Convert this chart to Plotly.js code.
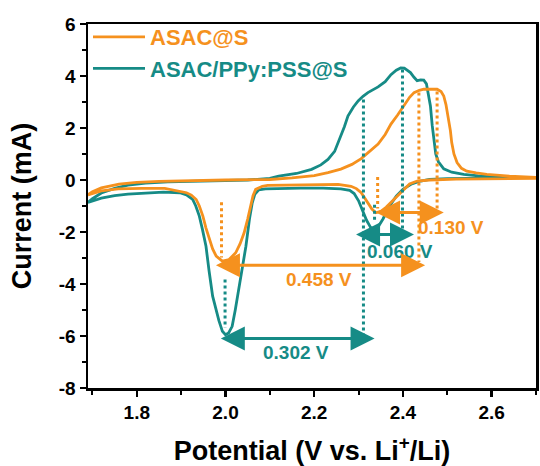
<!DOCTYPE html>
<html>
<head>
<meta charset="utf-8">
<script src="https://cdn.plot.ly/plotly-3.0.1.min.js"></script>
<style>html,body{margin:0;padding:0;background:#fff;}#chart{width:540px;height:466px;}</style>
</head>
<body>
<div id="chart"></div>
<script>
// ---- data: ASAC/PPy:PSS@S (teal), full CV loop: cathodic scan then anodic scan
const tealV = [2.70,2.62,2.55,2.50,2.46,2.44,2.42,2.40,2.385,2.37,2.355,2.345,2.336,2.327,2.318,2.31,2.30,2.29,2.28,2.26,2.22,2.17,2.12,2.09,2.075,2.066,2.06,2.054,2.046,2.038,2.031,2.022,2.015,2.007,2.0,1.993,1.985,1.978,1.971,1.963,1.956,1.948,1.941,1.933,1.926,1.912,1.897,1.86,1.82,1.78,1.75,1.72,1.69,
  1.70,1.72,1.75,1.78,1.82,1.87,1.95,2.05,2.10,2.12,2.16,2.194,2.215,2.231,2.246,2.258,2.268,2.276,2.288,2.299,2.31,2.321,2.344,2.36,2.373,2.385,2.395,2.403,2.41,2.417,2.425,2.432,2.44,2.447,2.453,2.458,2.462,2.466,2.470,2.474,2.480,2.492,2.51,2.537,2.57,2.603,2.65,2.70];
const tealI = [0.10,0.09,0.07,0.05,0.02,-0.04,-0.15,-0.36,-0.62,-1.0,-1.5,-1.78,-1.90,-1.82,-1.55,-1.2,-0.8,-0.52,-0.4,-0.34,-0.31,-0.31,-0.32,-0.34,-0.38,-0.55,-0.9,-1.5,-2.55,-3.4,-4.2,-5.0,-5.63,-5.88,-5.95,-5.82,-5.4,-4.95,-4.47,-3.5,-2.55,-1.9,-1.39,-1.0,-0.75,-0.57,-0.49,-0.47,-0.5,-0.54,-0.6,-0.7,-0.86,
  -0.72,-0.5,-0.32,-0.2,-0.12,-0.07,-0.03,0.0,0.06,0.15,0.25,0.41,0.58,0.79,1.1,1.6,2.05,2.46,2.8,3.04,3.22,3.36,3.58,3.78,4.05,4.22,4.31,4.3,4.22,4.13,3.95,3.82,3.85,3.84,3.7,3.3,2.85,2.1,1.44,1.0,0.7,0.43,0.3,0.22,0.16,0.13,0.11,0.10];

// ---- data: ASAC@S (orange)
const orangeV = [2.70,2.60,2.52,2.46,2.432,2.415,2.403,2.388,2.373,2.362,2.351,2.339,2.33,2.321,2.313,2.306,2.295,2.283,2.254,2.2,2.15,2.12,2.095,2.083,2.068,2.062,2.057,2.05,2.042,2.033,2.023,2.008,1.993,1.979,1.971,1.964,1.956,1.949,1.941,1.934,1.923,1.912,1.897,1.863,1.81,1.758,1.72,1.69,
  1.70,1.72,1.76,1.80,1.85,1.90,2.0,2.1,2.15,2.2,2.231,2.26,2.285,2.306,2.325,2.344,2.36,2.373,2.388,2.403,2.415,2.425,2.437,2.447,2.46,2.477,2.486,2.492,2.497,2.503,2.507,2.510,2.515,2.522,2.532,2.544,2.565,2.589,2.64,2.70];
const orangeI = [0.06,0.05,0.03,0.0,-0.04,-0.15,-0.36,-0.62,-0.87,-1.05,-1.2,-1.26,-1.12,-0.87,-0.65,-0.49,-0.33,-0.24,-0.17,-0.18,-0.19,-0.19,-0.21,-0.24,-0.36,-0.6,-1.0,-1.5,-2.03,-2.45,-2.8,-3.06,-3.12,-2.93,-2.65,-2.29,-1.85,-1.39,-1.0,-0.75,-0.58,-0.49,-0.43,-0.32,-0.32,-0.34,-0.42,-0.57,
  -0.45,-0.3,-0.16,-0.09,-0.05,-0.03,0.0,0.02,0.08,0.17,0.28,0.42,0.6,0.82,1.1,1.38,1.75,2.15,2.5,2.9,3.18,3.36,3.45,3.49,3.5,3.49,3.4,3.23,2.9,2.34,1.9,1.44,1.0,0.67,0.45,0.34,0.27,0.22,0.15,0.10];

const seriesNames = ['ASAC@S', 'ASAC/PPy:PSS@S'];
const seriesColors = ['#F5911E', '#168B86'];

// dotted peak markers: potential, top current, bottom current
const orangeMarkV   = [1.991, 2.343, 2.436, 2.477];
const orangeMarkTop = [-0.86, 0.12, 3.37, 3.40];
const orangeMarkBot = [-2.98, -1.10, -3.15, -1.25];
const tealMarkV     = [1.999, 2.311, 2.336, 2.399];
const tealMarkTop   = [-3.83, 3.10, -0.95, 4.25];
const tealMarkBot   = [-5.68, -6.00, -1.60, -2.00];

// double arrows: from potential, to potential, current level
const arrowFrom  = [2.336, 2.291, 1.975, 1.986];
const arrowTo    = [2.492, 2.425, 2.450, 2.336];
const arrowLevel = [-1.25, -2.10, -3.28, -6.10];
const arrowSeries = [0, 1, 0, 1];
const gapLabels  = ['0.130 V', '0.060 V', '0.458 V', '0.302 V'];
const labelV     = [2.508, 2.394, 2.211, 2.158];
const labelI     = [-1.83, -2.74, -3.83, -6.64];

const xTicks = [1.8, 2.0, 2.2, 2.4, 2.6];
const yTicks = [-8, -6, -4, -2, 0, 2, 4, 6];

const FONT = 'Arial, "Liberation Sans", sans-serif';

const traces = [
  {x: tealV, y: tealI, mode: 'lines', name: '<span style="color:' + seriesColors[1] + '">' + seriesNames[1] + '</span>',
   line: {color: seriesColors[1], width: 2.8}, legendrank: 2},
  {x: orangeV, y: orangeI, mode: 'lines', name: '<span style="color:' + seriesColors[0] + '">' + seriesNames[0] + '</span>',
   line: {color: seriesColors[0], width: 2.8}, legendrank: 1}
];

const shapes = [];
orangeMarkV.forEach((v, i) => shapes.push({type: 'line', xref: 'x', yref: 'y', x0: v, x1: v, y0: orangeMarkTop[i], y1: orangeMarkBot[i],
  line: {color: seriesColors[0], width: 3, dash: 'dot'}}));
tealMarkV.forEach((v, i) => shapes.push({type: 'line', xref: 'x', yref: 'y', x0: v, x1: v, y0: tealMarkTop[i], y1: tealMarkBot[i],
  line: {color: seriesColors[1], width: 3, dash: 'dot'}}));

const annotations = [];
arrowFrom.forEach((v, i) => {
  annotations.push({x: arrowTo[i], y: arrowLevel[i], ax: v, ay: arrowLevel[i], axref: 'x', ayref: 'y', xref: 'x', yref: 'y',
    text: '', showarrow: true, arrowside: 'end+start', arrowhead: 2, arrowsize: 1.6, arrowwidth: 3,
    arrowcolor: seriesColors[arrowSeries[i]], standoff: 0, startstandoff: 0});
  annotations.push({x: labelV[i], y: labelI[i], xref: 'x', yref: 'y', text: '<b>' + gapLabels[i] + '</b>', showarrow: false,
    font: {family: FONT, size: 19, color: seriesColors[arrowSeries[i]]}});
});

const axisCommon = {
  showgrid: false, zeroline: false, showline: true, linecolor: '#000', linewidth: 2.5, mirror: true,
  ticks: 'outside', ticklen: 6, tickwidth: 2.5, tickcolor: '#000',
  tickfont: {family: FONT, size: 19, color: '#000', weight: 'bold'}
};

const layout = {
  width: 540, height: 466,
  margin: {l: 88, r: 1, t: 24, b: 78},
  paper_bgcolor: '#fff', plot_bgcolor: '#fff',
  showlegend: true,
  legend: {x: 0.0, y: 1.022, xanchor: 'left', yanchor: 'top', bgcolor: 'rgba(0,0,0,0)',
    font: {family: FONT, size: 22, weight: 'bold'}, itemwidth: 52, tracegroupgap: 0},
  xaxis: Object.assign({}, axisCommon, {
    automargin: false,
    range: [1.69, 2.7], tickvals: xTicks, ticktext: xTicks.map(v => v.toFixed(1)),
    minor: {dtick: 0.1, tick0: 1.7, ticks: 'outside', ticklen: 4, tickwidth: 2, tickcolor: '#000'},
    title: {text: 'Potential (V vs. Li<sup>+</sup>/Li)', font: {family: FONT, size: 27, color: '#000', weight: 'bold'}, standoff: 24}
  }),
  yaxis: Object.assign({}, axisCommon, {
    automargin: true,
    range: [-8, 6], tickvals: yTicks, ticktext: yTicks.map(v => String(v)),
    minor: {dtick: 1, tick0: 0, ticks: 'outside', ticklen: 4, tickwidth: 2, tickcolor: '#000'},
    title: {text: 'Current (mA)', font: {family: FONT, size: 27, color: '#000', weight: 'bold'}, standoff: 20}
  }),
  shapes: shapes,
  annotations: annotations
};

Plotly.newPlot('chart', traces, layout, {displayModeBar: false, staticPlot: true});
</script>
</body>
</html>
